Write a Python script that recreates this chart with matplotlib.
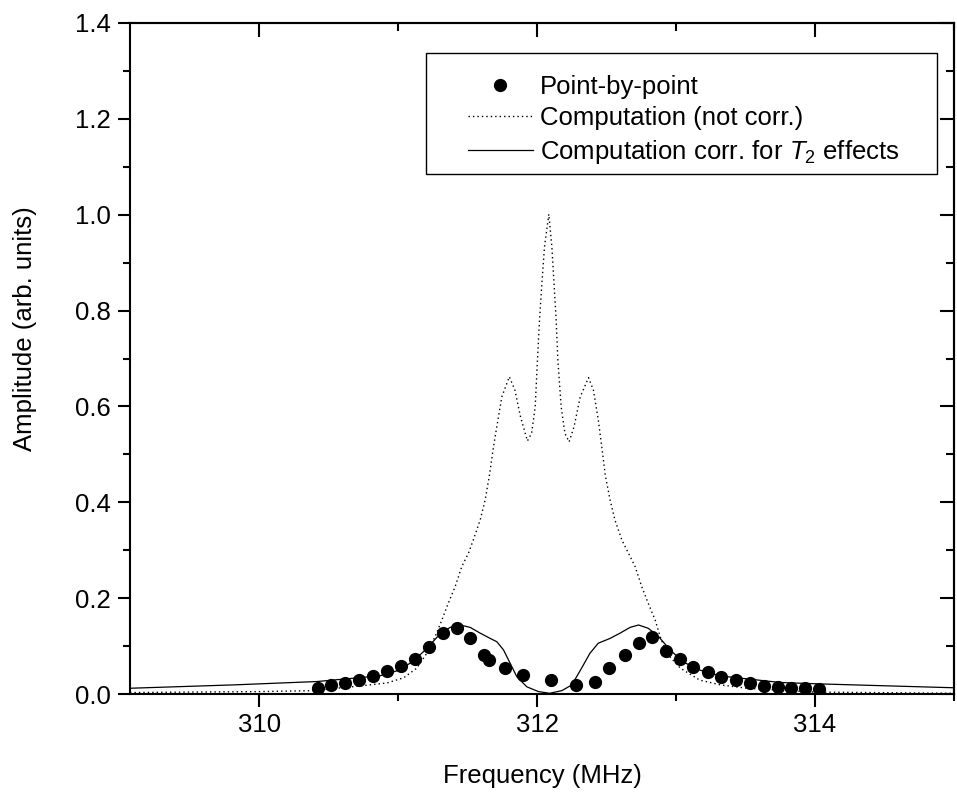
import matplotlib
matplotlib.use("Agg")
import matplotlib.pyplot as plt
from matplotlib.patches import Rectangle
from matplotlib.ticker import MultipleLocator, FormatStrFormatter

plt.rcParams['font.family'] = ['Liberation Sans', 'DejaVu Sans']
plt.rcParams['mathtext.fontset'] = 'custom'
plt.rcParams['mathtext.rm'] = 'Liberation Sans'
plt.rcParams['mathtext.it'] = 'Liberation Sans:italic'

# measured points
point_freq = [310.42, 310.52, 310.62, 310.72, 310.82, 310.92, 311.02, 311.12, 311.22,
              311.32, 311.42, 311.52, 311.62, 311.65, 311.77, 311.90, 312.10, 312.28,
              312.42, 312.52, 312.63, 312.73, 312.83, 312.93, 313.03, 313.12, 313.23,
              313.32, 313.43, 313.53, 313.63, 313.73, 313.83, 313.93, 314.03]
point_amp = [0.013, 0.018, 0.022, 0.029, 0.038, 0.047, 0.058, 0.074, 0.099,
             0.128, 0.138, 0.117, 0.081, 0.071, 0.054, 0.040, 0.029, 0.018,
             0.024, 0.054, 0.081, 0.107, 0.118, 0.090, 0.073, 0.056, 0.045,
             0.036, 0.029, 0.022, 0.017, 0.015, 0.013, 0.0125, 0.011]

# computation, not corrected
raw_freq = [309.07, 309.5, 310.0, 310.39, 310.73, 310.92, 311.04, 311.134, 311.206,
            311.266, 311.314, 311.36, 311.41, 311.458, 311.506, 311.54, 311.59,
            311.626, 311.657, 311.686, 311.71, 311.746, 311.80, 311.84, 311.88,
            311.93, 311.96, 311.986, 312.00, 312.017, 312.036, 312.053, 312.084,
            312.106, 312.12, 312.137, 312.149, 312.173, 312.20, 312.23, 312.266,
            312.31, 312.37, 312.405, 312.44, 312.465, 312.49, 312.525, 312.56,
            312.61, 312.657, 312.705, 312.753, 312.80, 312.85, 312.885, 312.933,
            313.03, 313.17, 313.32, 313.51, 313.99, 315.0]
raw_amp = [0.003, 0.004, 0.005, 0.007, 0.017, 0.023, 0.034, 0.054, 0.085,
           0.120, 0.154, 0.189, 0.224, 0.266, 0.294, 0.321, 0.363,
           0.405, 0.457, 0.516, 0.558, 0.620, 0.662, 0.634, 0.579,
           0.528, 0.544, 0.599, 0.683, 0.780, 0.864, 0.933, 1.001,
           0.933, 0.864, 0.780, 0.697, 0.599, 0.544, 0.526, 0.558,
           0.620, 0.660, 0.634, 0.572, 0.516, 0.457, 0.405, 0.363,
           0.321, 0.294, 0.266, 0.224, 0.189, 0.154, 0.120, 0.085,
           0.054, 0.029, 0.019, 0.012, 0.004, 0.0015]

# computation corrected for T2
corr_freq = [309.07, 309.815, 310.415, 310.87, 311.01, 311.11, 311.206, 311.30,
             311.374, 311.446, 311.518, 311.59, 311.662, 311.71, 311.758, 311.806,
             311.854, 311.926, 312.01, 312.09, 312.178, 312.25, 312.32, 312.38,
             312.44, 312.525, 312.597, 312.669, 312.73, 312.80, 312.873, 312.957,
             313.05, 313.17, 313.32, 313.75, 314.04, 315.0]
corr_amp = [0.012, 0.019, 0.026, 0.038, 0.050, 0.069, 0.095, 0.125,
            0.139, 0.144, 0.139, 0.127, 0.116, 0.109, 0.092, 0.064,
            0.036, 0.015, 0.005, 0.0015, 0.007, 0.019, 0.054, 0.085,
            0.106, 0.116, 0.127, 0.139, 0.144, 0.137, 0.120, 0.092,
            0.067, 0.050, 0.0376, 0.024, 0.021, 0.013]

fig = plt.figure(figsize=(9.57, 7.92), dpi=100)
ax = fig.add_axes([130 / 957, 98 / 792, 824 / 957, 671 / 792])

ax.plot(point_freq, point_amp, 'o', color='black', ms=8.5, label="Point-by-point")
ax.plot(raw_freq, raw_amp, color='black', lw=1.0, linestyle=(0, (1, 2.2)),
        label="Computation (not corr.)")
ax.plot(corr_freq, corr_amp, color='black', lw=0.9,
        label=r"Computation corr. for $\mathit{T}_{\mathit{2}}$ effects")

ax.set_xlim(309.07, 315.0)
ax.set_ylim(0, 1.4)
ax.xaxis.set_major_locator(MultipleLocator(2))
ax.xaxis.set_minor_locator(MultipleLocator(1))
ax.yaxis.set_major_locator(MultipleLocator(0.2))
ax.yaxis.set_minor_locator(MultipleLocator(0.1))
ax.yaxis.set_major_formatter(FormatStrFormatter('%.1f'))

for s in ax.spines.values():
    s.set_linewidth(1.5)
ax.tick_params(which='both', direction='out', width=1.5, labelsize=18.5, pad=5,
               top=False, right=False)
ax.tick_params(which='major', length=9)
ax.tick_params(which='minor', length=5)
# inward ticks on top and right
ax2 = ax.secondary_xaxis('top')
ax2.xaxis.set_major_locator(MultipleLocator(2))
ax2.xaxis.set_minor_locator(MultipleLocator(1))
ax2.tick_params(which='both', direction='in', width=1.5, labeltop=False)
ax2.tick_params(which='major', length=10)
ax2.tick_params(which='minor', length=6)
ax2.spines['top'].set_linewidth(1.5)
ax3 = ax.secondary_yaxis('right')
ax3.yaxis.set_major_locator(MultipleLocator(0.2))
ax3.yaxis.set_minor_locator(MultipleLocator(0.1))
ax3.tick_params(which='both', direction='in', width=1.5, labelright=False)
ax3.tick_params(which='major', length=10)
ax3.tick_params(which='minor', length=6)
ax3.spines['right'].set_linewidth(1.5)

ax.set_xlabel("Frequency (MHz)", fontsize=18.5)
ax.set_ylabel("Amplitude (arb. units)", fontsize=18.5)
ax.xaxis.set_label_coords(0.5, -0.104)
ax.yaxis.set_label_coords(-0.113, 0.545)

# legend box
ax.add_patch(Rectangle((0.359, 0.775), 0.62, 0.18, transform=ax.transAxes,
                       fill=False, edgecolor='black', lw=1.0, zorder=5))
ax.legend(loc='upper left', bbox_to_anchor=(0.395, 0.942), frameon=False,
          fontsize=18.5, handlelength=2.5, handletextpad=0.3, borderpad=0,
          labelspacing=0.3)

fig.savefig("out.png", dpi=100)
